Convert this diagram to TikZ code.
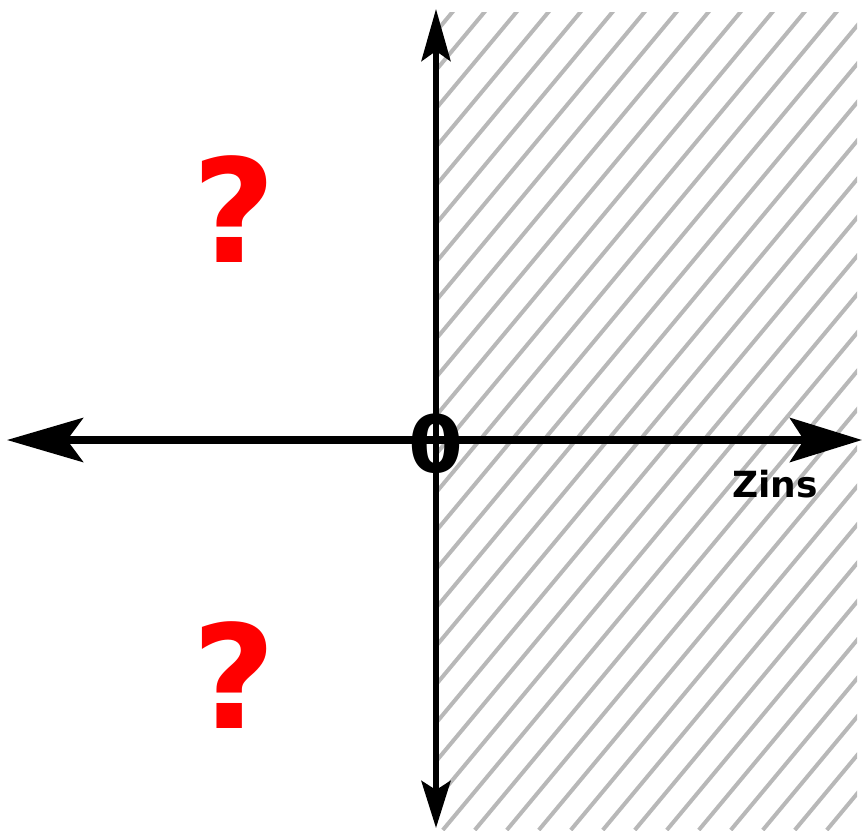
\documentclass[tikz,border=0pt]{standalone}
\usepackage{fontspec}
\setmainfont{DejaVu Sans}
\usetikzlibrary{arrows.meta}
\definecolor{hatchgray}{HTML}{B8B8B8}
\tikzset{
  hatchline/.style={draw=hatchgray, line width=4pt},
  haxis/.style={line width=7.5pt, {Stealth[length=76pt, width=44pt, inset=16pt]}-{Stealth[length=72pt, width=44pt, inset=14pt]}},
  vaxis/.style={line width=6pt, {Stealth[length=52pt, width=29pt, inset=10pt]}-{Stealth[length=47pt, width=29pt, inset=9pt]}},
  qmark/.style={text=red, inner sep=0pt, anchor=base, font=\bfseries\fontsize{144}{144}\selectfont},
  zerolabel/.style={inner sep=0pt, anchor=base, font=\bfseries\fontsize{79}{79}\selectfont},
  axislabel/.style={inner sep=0pt, anchor=base, font=\bfseries\fontsize{36}{36}\selectfont}
}
\begin{document}
\begin{tikzpicture}[x=1pt, y=-1pt]
\useasboundingbox (0,0) rectangle (862,830);
% hatched half-plane
\begin{scope}
  \clip (435,12) rectangle (857,830);
  \foreach \k in {-16,...,30} {
    \pgfmathsetmacro{\c}{622.5+32*\k}
    \draw[hatchline] ({\c},0) -- ({\c-830/1.2},830);
  }
\end{scope}
% axes
\coordinate (W) at (7,440);
\coordinate (E) at (862,440);
\coordinate (N) at (436,9);
\coordinate (S) at (436,828);
\draw[haxis] (W) -- (E);
\draw[vaxis] (N) -- (S);
% labels
\node[zerolabel] (zero) at (436,472) {0};
\node[axislabel] (zins) at (775,497) {Zins};
\node[qmark] (q1) at (234,262) {?};
\node[qmark] (q2) at (234,728) {?};
\end{tikzpicture}
\end{document}
